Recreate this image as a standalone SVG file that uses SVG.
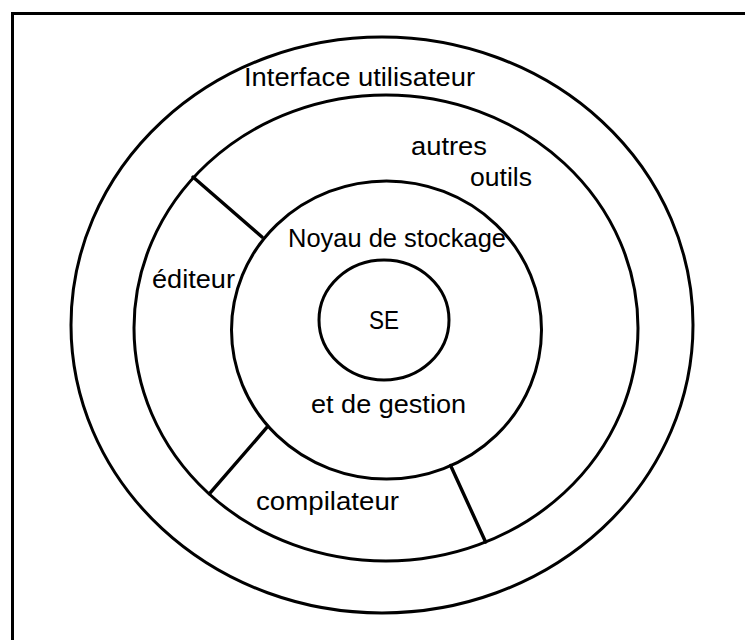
<svg xmlns="http://www.w3.org/2000/svg" width="745" height="640" viewBox="0 0 745 640">
<style>
.ring{fill:none;stroke:#000;stroke-width:3}
.frame{fill:none;stroke:#000;stroke-width:3}
.sep{stroke:#000;stroke-width:3.4;stroke-linecap:round}
text{font-family:"Liberation Sans",Arial,Helvetica,sans-serif;font-size:26px;fill:#000}
</style>
<rect x="0" y="0" width="745" height="640" fill="#fff"/>
<path class="frame" d="M12.5,640 V13.5 H745"/>
<g id="interface-utilisateur">
<ellipse class="ring" cx="382" cy="325" rx="311" ry="288"/>
<text x="244" y="86" textLength="231" lengthAdjust="spacingAndGlyphs">Interface utilisateur</text>
</g>
<g id="outils">
<ellipse class="ring" cx="386" cy="328" rx="252" ry="233"/>
<text x="411" y="155" textLength="76" lengthAdjust="spacingAndGlyphs">autres</text>
<text x="470" y="186" textLength="62" lengthAdjust="spacingAndGlyphs">outils</text>
<text x="152" y="288" textLength="83" lengthAdjust="spacingAndGlyphs">éditeur</text>
<text x="256" y="510" textLength="143" lengthAdjust="spacingAndGlyphs">compilateur</text>
</g>
<g id="noyau">
<ellipse class="ring" cx="386.5" cy="330" rx="155" ry="149"/>
<text x="288" y="247" textLength="218" lengthAdjust="spacingAndGlyphs">Noyau de stockage</text>
<text x="311" y="413" textLength="155" lengthAdjust="spacingAndGlyphs">et de gestion</text>
</g>
<g id="se">
<ellipse class="ring" cx="384" cy="320" rx="65" ry="60"/>
<text x="369" y="329" font-size="25" textLength="30" lengthAdjust="spacingAndGlyphs">SE</text>
</g>
<g id="connectors">
<line class="sep" x1="193" y1="177" x2="262" y2="237"/>
<line class="sep" x1="267.5" y1="426.7" x2="209.5" y2="493.7"/>
<line class="sep" x1="450.6" y1="465.5" x2="485.6" y2="542"/>
</g>
</svg>
